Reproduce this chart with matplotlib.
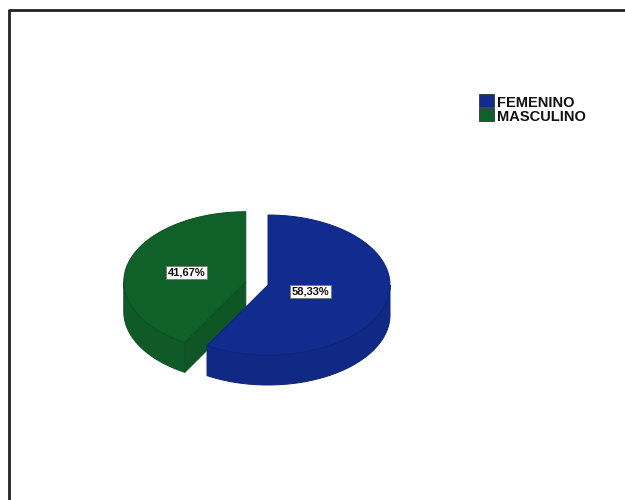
import numpy as np
import matplotlib
matplotlib.use('Agg')
import matplotlib.pyplot as plt
from matplotlib.patches import Polygon, Rectangle

sexo = ['FEMENINO', 'MASCULINO']
porcentaje = [58.33, 41.67]
colores = ['#112c8e', '#10602a']
bordes = ['#0d237a', '#0b5022']

plt.rcParams['font.family'] = ['Liberation Sans', 'DejaVu Sans']

fig = plt.figure(figsize=(6.25, 5), dpi=100)
ax = fig.add_axes([0, 0, 1, 1])
ax.set_xlim(0, 625)
ax.set_ylim(500, 0)
ax.axis('off')

# marco del grafico
ax.plot([9, 9, 625], [500, 10, 10], color='#222222', lw=2.0, solid_capstyle='butt')

# pastel 3D: centro, radios, profundidad
cx, cy = 268, 285
rx, ry = 122, 70
prof = 30
explota = [0, 23]
pos_etiq = [0.36, 0.5]


def punto(xc, yc, ang):
    a = np.radians(ang)
    return xc + rx * np.cos(a), yc - ry * np.sin(a)


def arco(xc, yc, a0, a1, n=80):
    t = np.radians(np.linspace(a0, a1, n))
    return np.column_stack([xc + rx * np.cos(t), yc - ry * np.sin(t)])


def oscuro(c, f):
    r, g, b = matplotlib.colors.to_rgb(c)
    return (r * f, g * f, b * f)


# angulos: el primer sector arranca a las 12 y va en sentido horario
total = sum(porcentaje)
sectores = []
inicio = 90.0
for p in porcentaje:
    barrido = 360.0 * p / total
    sectores.append((inicio - barrido, inicio))
    inicio -= barrido

orden = [1, 0]
for i in orden:
    a0, a1 = sectores[i]
    mid = np.radians((a0 + a1) / 2)
    xc = cx + explota[i] * np.cos(mid)
    yc = cy - explota[i] * 0.55 * np.sin(mid)
    col = colores[i]

    # pared exterior (solo la parte frontal)
    lo = a0 % 360
    hi = lo + (a1 - a0)
    for k in range(-1, 2):
        f0 = max(lo, 180 + 360 * k)
        f1 = min(hi, 360 + 360 * k)
        if f1 > f0:
            arr = arco(xc, yc, f0, f1)
            aba = arr[::-1] + [0, prof]
            ax.add_patch(Polygon(np.vstack([arr, aba]), closed=True,
                                 facecolor=oscuro(col, 0.94), edgecolor=bordes[i], lw=0.7))

    # caras radiales visibles
    for ang, signo in [(a0, -1), (a1, 1)]:
        normal = np.radians(ang + 90 * signo)
        if -np.sin(normal) > 0.05:
            px, py = punto(xc, yc, ang)
            cara = [(xc, yc), (px, py), (px, py + prof), (xc, yc + prof)]
            ax.add_patch(Polygon(cara, closed=True, facecolor=oscuro(col, 0.9),
                                 edgecolor=bordes[i], lw=0.7))

    # cara superior
    sup = np.vstack([[xc, yc], arco(xc, yc, a0, a1)])
    ax.add_patch(Polygon(sup, closed=True, facecolor=col, edgecolor=bordes[i], lw=0.7))

    tx = xc + pos_etiq[i] * rx * np.cos(mid)
    ty = yc - pos_etiq[i] * ry * np.sin(mid)
    ax.text(tx, ty, f'{porcentaje[i]:.2f}%'.replace('.', ','), ha='center', va='center',
            fontsize=8, fontweight='bold', color='#111111',
            bbox=dict(boxstyle='square,pad=0.15', facecolor='white', edgecolor='#777777', lw=0.6))

# leyenda
for j, nombre in enumerate(sexo):
    y0 = 94 + 14 * j
    ax.add_patch(Rectangle((479, y0), 15, 13, facecolor=colores[j], edgecolor='#333333', lw=0.6))
    ax.text(497, y0 + 9, nombre, ha='left', va='center', fontsize=10.5,
            fontweight='bold', color='#111111')

fig.savefig('out.png', dpi=100, facecolor='white')
